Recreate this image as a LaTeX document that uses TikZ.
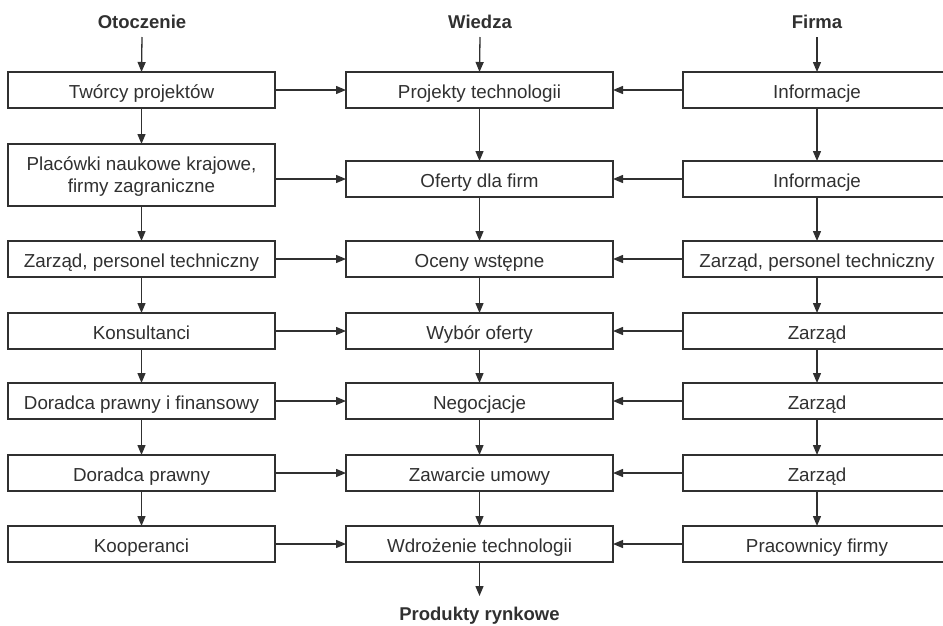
\documentclass[tikz,border=0pt]{standalone}
\usepackage{fontspec}
\setmainfont{Liberation Sans}
\usetikzlibrary{arrows.meta}
\definecolor{ink}{HTML}{303030}
\begin{document}
\begin{tikzpicture}[x=1pt,y=-1pt,
  box/.style={draw=ink,line width=1.5pt,minimum width=267pt,minimum height=36pt,
    inner sep=0pt,outer sep=0pt,text=ink,align=center,
    text height=18.5pt,text depth=1.5pt,
    font=\fontsize{18.8}{22}\selectfont},
  head/.style={text=ink,anchor=base,font=\bfseries\fontsize{18.5}{22}\selectfont},
  flow/.style={draw=ink,line width=1.3pt,-{Triangle[length=10pt,width=8pt]}}]
\useasboundingbox (0,0) rectangle (943,625);

% column headings
\node[head] (tO) at (142,28) {Otoczenie};
\node[head] (tW) at (480,28) {Wiedza};
\node[head] (tF) at (817,28) {Firma};
\coordinate (sO) at (142,37);
\coordinate (sW) at (480,37);
\coordinate (sF) at (817,37);

% left column: Otoczenie
\node[box] (l1) at (141.5,90)    {Twórcy projektów};
\node[box,minimum height=62pt,text height=,text depth=] (l2) at (141.5,175)
  {\rule{0pt}{16pt}Placówki naukowe krajowe,\\firmy zagraniczne};
\node[box] (l3) at (141.5,259)   {Zarząd, personel techniczny};
\node[box] (l4) at (141.5,331)   {Konsultanci};
\node[box] (l5) at (141.5,401)   {Doradca prawny i finansowy};
\node[box] (l6) at (141.5,473)   {Doradca prawny};
\node[box] (l7) at (141.5,544)   {Kooperanci};

% middle column: Wiedza
\node[box] (m1) at (479.5,90)  {Projekty technologii};
\node[box] (m2) at (479.5,179) {Oferty dla firm};
\node[box] (m3) at (479.5,259) {Oceny wstępne};
\node[box] (m4) at (479.5,331) {Wybór oferty};
\node[box] (m5) at (479.5,401) {Negocjacje};
\node[box] (m6) at (479.5,473) {Zawarcie umowy};
\node[box] (m7) at (479.5,544) {Wdrożenie technologii};

% right column: Firma
\node[box,minimum width=268pt] (r1) at (817,90)  {Informacje};
\node[box,minimum width=268pt] (r2) at (817,179) {Informacje};
\node[box,minimum width=268pt] (r3) at (817,259) {Zarząd, personel techniczny};
\node[box,minimum width=268pt] (r4) at (817,331) {Zarząd};
\node[box,minimum width=268pt] (r5) at (817,401) {Zarząd};
\node[box,minimum width=268pt] (r6) at (817,473) {Zarząd};
\node[box,minimum width=268pt] (r7) at (817,544) {Pracownicy firmy};

% result
\coordinate (eP) at (479.5,596);
\node[head] (prod) at (479.5,620.5) {Produkty rynkowe};

% entry arrows
\draw[flow] (sO) -- (l1.north);
\draw[flow] (sW) -- (m1.north);
\draw[flow] (sF) -- (r1.north);

% vertical flows and side inputs
\foreach \a/\b in {1/2,2/3,3/4,4/5,5/6,6/7}{
  \draw[flow] (l\a.south) -- (l\b.north);
  \draw[flow] (m\a.south) -- (m\b.north);
  \draw[flow] (r\a.south) -- (r\b.north);
}
\foreach \i in {1,...,7}{
  \draw[flow] (l\i.east |- m\i) -- (m\i.west);
  \draw[flow] (r\i.west |- m\i) -- (m\i.east);
}
\draw[flow] (m7.south) -- (eP);
\end{tikzpicture}
\end{document}
